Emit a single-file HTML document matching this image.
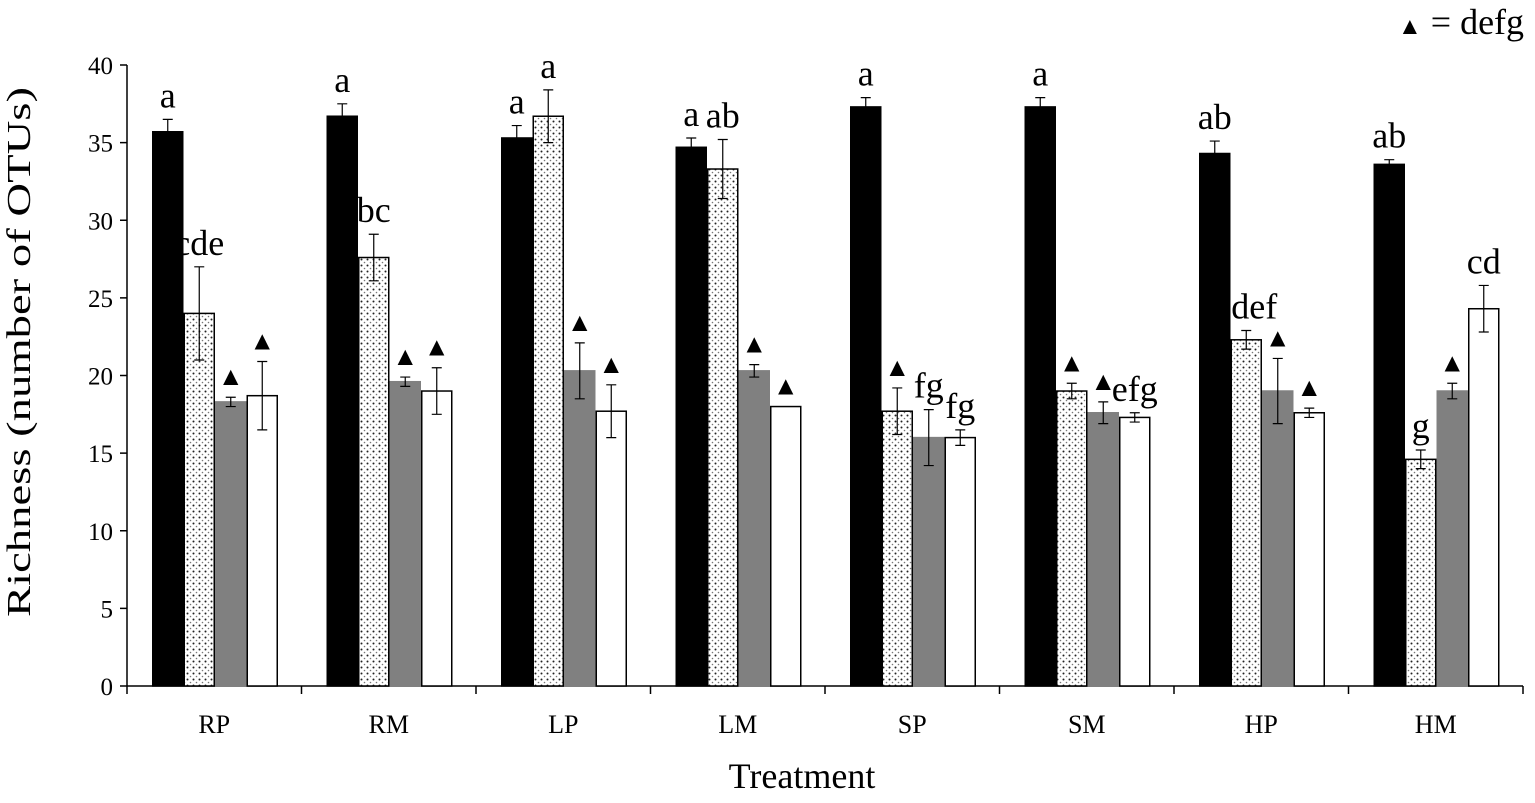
<!DOCTYPE html>
<html><head><meta charset="utf-8"><style>
body{margin:0;background:#fff}
svg text{font-family:"Liberation Serif",serif;fill:#000}
</style></head><body>
<svg id="chart" width="1535" height="798" viewBox="0 0 1535 798" xmlns="http://www.w3.org/2000/svg">
<defs>
<pattern id="dots" width="6" height="6" patternUnits="userSpaceOnUse">
<rect width="6" height="6" fill="#fff"/>
<circle cx="1.5" cy="1.5" r="1" fill="#222"/>
<circle cx="4.5" cy="4.5" r="0.8" fill="#777"/>
</pattern>
</defs>
<g id="plot"></g>
<text x="1398" y="34" font-size="36"><tspan font-size="24">▲</tspan> = defg</text>
<text x="802" y="788" font-size="36" text-anchor="middle">Treatment</text>
<text transform="translate(30,352) rotate(-90)" font-size="34" text-anchor="middle" textLength="530" lengthAdjust="spacingAndGlyphs">Richness (number of OTUs)</text>
</svg>
<script>
const categories=["RP","RM","LP","LM","SP","SM","HP","HM"];
const s1=[35.7,36.7,35.3,34.7,37.3,37.3,34.3,33.6];
const s2=[24.0,27.6,36.7,33.3,17.7,19.0,22.3,14.6];
const s3=[18.3,19.6,20.3,20.3,16.0,17.6,19.0,19.0];
const s4=[18.7,19.0,17.7,18.0,16.0,17.3,17.6,24.3];
const e1=[0.8,0.8,0.8,0.6,0.6,0.6,0.8,0.3];
const e2=[3.0,1.5,1.7,1.9,1.5,0.5,0.6,0.6];
const e3=[0.3,0.3,1.8,0.4,1.8,0.7,2.1,0.5];
const e4=[2.2,1.5,1.7,0,0.5,0.3,0.3,1.5];
const l1=["a","a","a","a","a","a","ab","ab"];
const l2=["cde","bc","a","ab","▲","▲","cdef","g"];
const l3=["▲","▲","▲","▲","fg","▲","▲","▲"];
const l4=["▲","▲","▲","▲","fg","efg","▲","cd"];
const yTicks=[0,5,10,15,20,25,30,35,40];

const NS="http://www.w3.org/2000/svg";
const g=document.getElementById('plot');
const x0=127,gw=174.5,y0=686,ppu=15.525,bw=31.5;
const y=v=>y0-v*ppu;
function mk(t,a){const e=document.createElementNS(NS,t);for(const k in a)e.setAttribute(k,a[k]);g.appendChild(e);return e;}
let ax=mk('line',{x1:x0,y1:y(40),x2:x0,y2:y0,stroke:'#000','stroke-width':1.5});


let axx=mk('line',{x1:x0,y1:y0,x2:x0+8*gw,y2:y0,stroke:'#000','stroke-width':1.5});


yTicks.forEach(t=>{
  const tk=mk('line',{x1:x0-7,x2:x0,y1:y(t),y2:y(t),stroke:'#000','stroke-width':1.5});
  
  
  const tl=mk('text',{x:x0-14,y:y(t)+9,'font-size':25,'text-anchor':'end'});
  tl.textContent=t;
  
  
});
for(let i=0;i<=8;i++){
  const tk=mk('line',{x1:x0+i*gw,x2:x0+i*gw,y1:y0,y2:y0+8,stroke:'#000','stroke-width':1.5});
  
  
}
const series=[s1,s2,s3,s4],errs=[e1,e2,e3,e4],labs=[l1,l2,l3,l4];
const fills=['#000','url(#dots)','#808080','#fff'];
const strokes=['#000','#000','#808080','#000'];
categories.forEach((c,i)=>{
  const gx=x0+i*gw+25;
  const cl=mk('text',{x:x0+i*gw+gw/2,y:y0+47,'font-size':26,'text-anchor':'middle'});
  cl.textContent=c;
  
  
  series.forEach((s,j)=>{
    const bx=gx+j*bw, v=s[i], cx=bx+bw/2;
    const r=mk('rect',{x:bx+0.75,y:y(v),width:bw-1.5,height:y0-y(v),fill:fills[j],stroke:strokes[j],'stroke-width':1.5});
    
    
    const e=errs[j][i];
    if(e>0){
      const eb=mk('path',{d:`M${cx},${y(v+e)}V${y(v-e)}M${cx-5},${y(v+e)}H${cx+5}M${cx-5},${y(v-e)}H${cx+5}`,stroke:'#000','stroke-width':1.2,fill:'none'});
      
      
    }
    const lab=labs[j][i];
    const tri=lab==='▲';
    const lt=mk('text',{x:cx,y:y(v+e)-(tri?12:12),'font-size':tri?26:36,'text-anchor':'middle'});
    lt.textContent=lab;
    
    
  });
});
</script>
</body></html>
